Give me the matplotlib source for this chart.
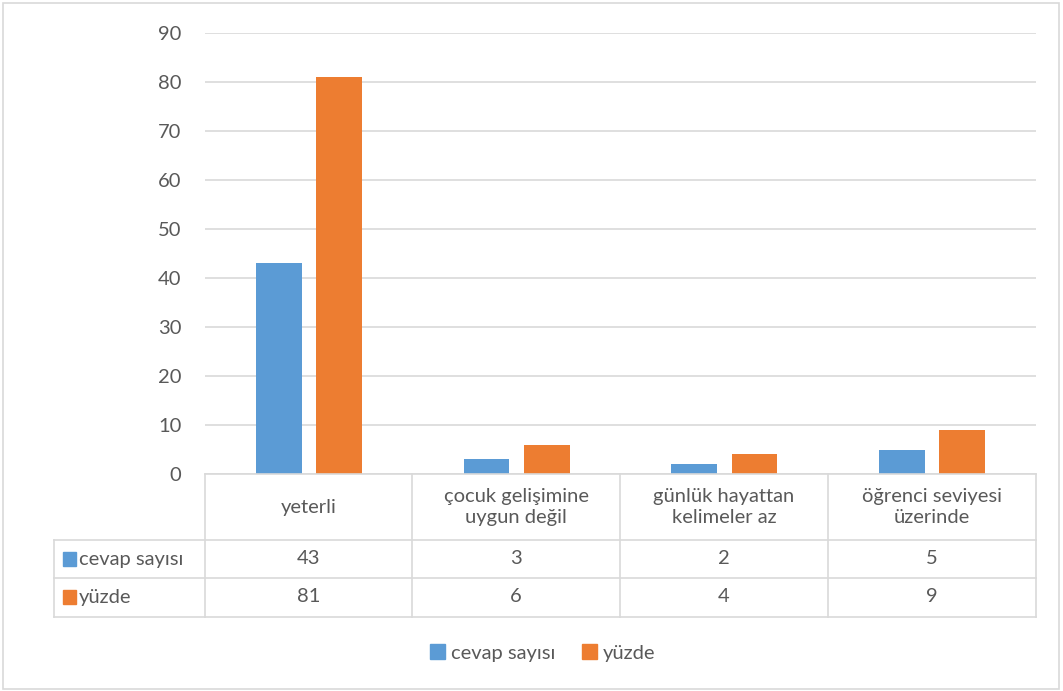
import matplotlib.pyplot as plt
from matplotlib.patches import Patch, Rectangle
from matplotlib.lines import Line2D
import numpy as np

plt.rcParams['font.family'] = ['Lato', 'DejaVu Sans']

categories = ["yeterli", "çocuk gelişimine\nuygun değil", "günlük hayattan\nkelimeler az", "öğrenci seviyesi\nüzerinde"]
series_names = ["cevap sayısı", "yüzde"]
cevap_sayisi = [43, 3, 2, 5]
yuzde = [81, 6, 4, 9]
y_ticks = [0, 10, 20, 30, 40, 50, 60, 70, 80, 90]

BLUE = "#5B9BD5"
ORANGE = "#ED7D31"
TEXT = "#595959"
GRID = "#D9D9D9"
FS = 14.5

W, H = 1063, 691
fig = plt.figure(figsize=(W / 100, H / 100), dpi=100)


def fx(px):
    return px / W


def fy(py):
    return 1 - py / H


# plot area in pixel space
left, right, top, bottom = 205, 1036, 33, 474
ax = fig.add_axes([fx(left), fy(bottom), fx(right) - fx(left), fy(top) - fy(bottom)])

x = np.arange(len(categories))
bw = 0.22
ax.bar(x - 0.145, cevap_sayisi, bw, color=BLUE, zorder=3)
ax.bar(x + 0.145, yuzde, bw, color=ORANGE, zorder=3)

ax.set_xlim(-0.5, len(categories) - 0.5)
ax.set_ylim(0, 90)
ax.set_yticks(y_ticks)
ax.yaxis.grid(True, color=GRID, linewidth=1.2, zorder=0)
ax.set_xticks([])
ax.tick_params(axis="y", length=0, pad=17, labelsize=FS, labelcolor=TEXT)
for s in ["top", "right", "left", "bottom"]:
    ax.spines[s].set_visible(False)

# data table under the plot
rows_y = [474, 540, 578, 617]
col_x = [205, 412, 620, 828, 1036]
tbl_left = 54
lc = dict(color=GRID, linewidth=1.2, transform=fig.transFigure)
fig.add_artist(Line2D([fx(left), fx(right)], [fy(474), fy(474)], **lc))
for ry in rows_y[1:]:
    fig.add_artist(Line2D([fx(tbl_left), fx(right)], [fy(ry), fy(ry)], **lc))
for cx in col_x:
    fig.add_artist(Line2D([fx(cx), fx(cx)], [fy(474), fy(617)], **lc))
fig.add_artist(Line2D([fx(tbl_left), fx(tbl_left)], [fy(540), fy(617)], **lc))

for i, cat in enumerate(categories):
    cx = (col_x[i] + col_x[i + 1]) / 2
    fig.text(fx(cx), fy(507), cat, ha="center", va="center", fontsize=FS,
             color=TEXT, linespacing=1.25)
    fig.text(fx(cx), fy(559), str(cevap_sayisi[i]), ha="center", va="center",
             fontsize=FS, color=TEXT)
    fig.text(fx(cx), fy(597), str(yuzde[i]), ha="center", va="center",
             fontsize=FS, color=TEXT)

for name, color, cy in [(series_names[0], BLUE, 559), (series_names[1], ORANGE, 597)]:
    fig.add_artist(Rectangle((fx(63), fy(cy + 7)), fx(13), fy(cy - 7) - fy(cy + 7),
                             transform=fig.transFigure, color=color))
    fig.text(fx(79), fy(cy), name, ha="left", va="center", fontsize=FS, color=TEXT)

handles = [Patch(color=BLUE, label=series_names[0]), Patch(color=ORANGE, label=series_names[1])]
fig.legend(handles=handles, loc="center", bbox_to_anchor=(fx(543), fy(653)), ncol=2,
           frameon=False, fontsize=FS, labelcolor=TEXT, handlelength=0.75,
           handleheight=0.75, handletextpad=0.3, columnspacing=1.3)

# chart border
fig.add_artist(Rectangle((fx(3), fy(689)), fx(1059) - fx(3), fy(3) - fy(689),
                         transform=fig.transFigure, fill=False, edgecolor=GRID, linewidth=1.2))

fig.savefig("out.png", dpi=100, facecolor="white")
